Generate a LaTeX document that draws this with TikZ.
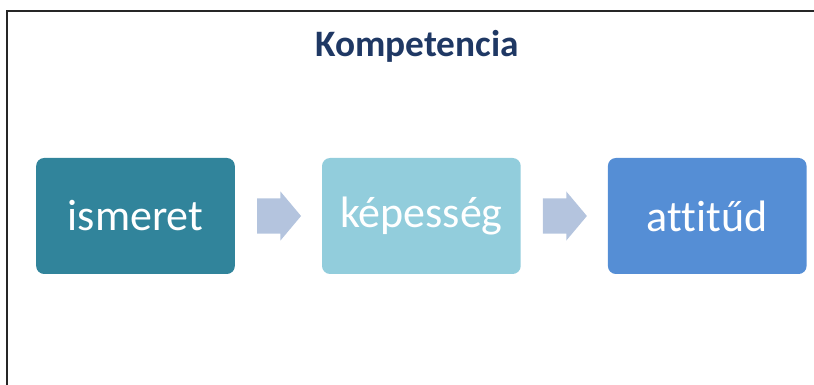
\documentclass[tikz,border=0pt]{standalone}
\usepackage{fontspec}
\setmainfont[Ligatures=NoCommon]{Carlito}
\usetikzlibrary{positioning,calc,shapes.arrows}

\definecolor{ismeretcol}{RGB}{49,132,155}
\definecolor{kepessegcol}{RGB}{146,205,220}
\definecolor{attitudcol}{RGB}{85,142,213}
\definecolor{arrowcol}{RGB}{180,196,222}
\definecolor{titlecol}{RGB}{31,56,100}

\tikzset{
  stage/.style={rounded corners=6pt, minimum width=149pt, minimum height=87pt,
    text=white, font=\fontsize{33}{36}\selectfont, inner sep=0pt},
  flowarrow/.style={single arrow, fill=arrowcol, draw=none, inner xsep=1pt, inner ysep=13pt,
    minimum height=33pt, single arrow head extend=5.25pt, single arrow tip angle=100}
}

\begin{document}
\begin{tikzpicture}[x=0.75pt, y=0.75pt]

\useasboundingbox (0,0) rectangle (814,385);

\begin{scope}[line width=1.6pt, draw=black!85]
\draw (7,0) -- (7,374) -- (814,374);
\end{scope}

\node[font=\fontsize{28}{31}\selectfont\bfseries, text=titlecol] (title) at (417,339) {Kompetencia};

\node[stage, fill=ismeretcol] (ismeret) at (135.5,169) {ismeret};
\node[stage, fill=kepessegcol, right=65pt of ismeret] (kepesseg) {képesség};
\node[stage, fill=attitudcol, right=65pt of kepesseg] (attitud) {attitűd};

\foreach \a/\b in {ismeret/kepesseg, kepesseg/attitud}
\node[flowarrow, anchor=tail] (arr-\a) at ($(\a.east)!0.25!(\b.west)$) {};

\end{tikzpicture}
\end{document}
